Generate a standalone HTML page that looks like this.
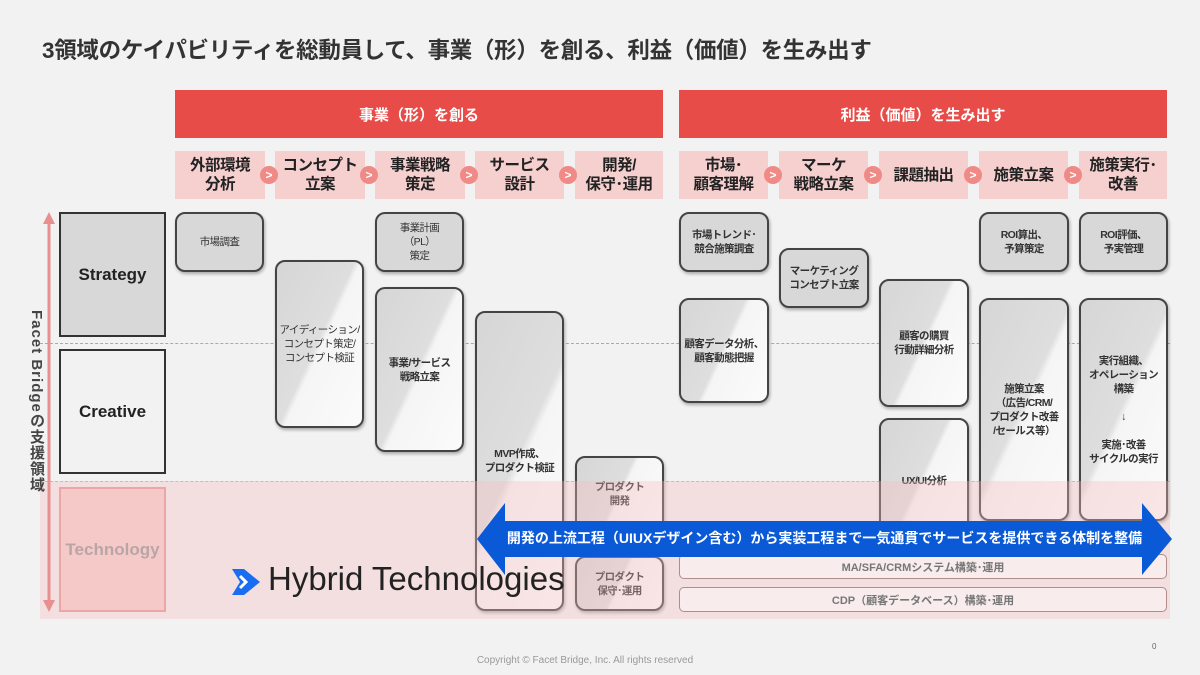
<!DOCTYPE html>
<html><head><meta charset="utf-8"><style>
*{margin:0;padding:0;box-sizing:border-box}
body{width:1200px;height:675px;background:#f2f2f2;position:relative;overflow:hidden;font-family:"Liberation Sans","Noto Sans CJK JP",sans-serif;color:#222}
.a{position:absolute}
.title{left:42px;top:33px;font-size:22.5px;font-weight:bold;letter-spacing:-0.3px;color:#333;white-space:nowrap}
.hd{background:#e84c48;color:#fff;font-weight:bold;font-size:15px;display:flex;align-items:center;justify-content:center;top:90px;height:48px}
.sh{background:#f6cfcf;top:151px;height:48px;font-weight:bold;font-size:15.5px;line-height:19px;display:flex;align-items:center;justify-content:center;text-align:center;color:#222;letter-spacing:-0.5px;white-space:nowrap}
.ch{width:18px;height:18px;border-radius:50%;background:#ef8a86;color:#fff;font-size:12px;font-weight:bold;display:flex;align-items:center;justify-content:center;top:166px;z-index:2}
.b{border:2px solid #444;border-radius:10px;font-size:10.5px;line-height:14px;font-weight:bold;display:flex;align-items:center;justify-content:center;text-align:center;box-shadow:1px 2px 3px rgba(0,0,0,.3);color:#333;letter-spacing:-0.6px;white-space:nowrap}
.g{background:#d8d8d8}
.gr{background:linear-gradient(115deg,#d6d6d6 0%,#dedede 48%,#f5f5f5 52%,#fbfbfb 100%)}
.row{border:2px solid #333;font-size:17px;font-weight:bold;display:flex;align-items:center;justify-content:center;left:59px;width:107px}
.dash{left:40px;width:1130px;border-top:1px dashed #aaa}
.bar{left:679px;width:488px;height:25px;border:1.5px solid #b08c8c;border-radius:5px;background:rgba(255,255,255,.4);font-size:11px;font-weight:bold;color:#777;display:flex;align-items:center;justify-content:center}
</style></head><body>
<div class="a title">3領域のケイパビリティを総動員して、事業（形）を創る、利益（価値）を生み出す</div>
<div class="a hd" style="left:175px;width:488px">事業（形）を創る</div>
<div class="a hd" style="left:679px;width:488px">利益（価値）を生み出す</div>

<div class="a sh" style="left:175px;width:90px">外部環境<br>分析</div>
<div class="a sh" style="left:275px;width:90px">コンセプト<br>立案</div>
<div class="a sh" style="left:375px;width:90px">事業戦略<br>策定</div>
<div class="a sh" style="left:475px;width:89px">サービス<br>設計</div>
<div class="a sh" style="left:575px;width:88px">開発/<br>保守･運用</div>
<div class="a sh" style="left:679px;width:89px">市場･<br>顧客理解</div>
<div class="a sh" style="left:779px;width:89px">マーケ<br>戦略立案</div>
<div class="a sh" style="left:879px;width:89px">課題抽出</div>
<div class="a sh" style="left:979px;width:89px">施策立案</div>
<div class="a sh" style="left:1079px;width:88px">施策実行･<br>改善</div>
<div class="a ch" style="left:260px">&gt;</div><div class="a ch" style="left:360px">&gt;</div><div class="a ch" style="left:460px">&gt;</div><div class="a ch" style="left:559px">&gt;</div>
<div class="a ch" style="left:764px">&gt;</div><div class="a ch" style="left:864px">&gt;</div><div class="a ch" style="left:964px">&gt;</div><div class="a ch" style="left:1064px">&gt;</div>

<div class="a dash" style="top:343px"></div>
<div class="a dash" style="top:481px;border-color:#d9a8a8"></div>

<div class="a row" style="top:212px;height:125px;background:#d8d8d8">Strategy</div>
<div class="a row" style="top:349px;height:125px;background:#f2f2f2">Creative</div>
<div class="a row" style="top:487px;height:125px;border-color:#e89a9a;color:#999;background:#f6d0d0">Technology</div>

<div class="a b g" style="left:175px;top:212px;width:89px;height:60px;font-weight:normal">市場調査</div>
<div class="a b gr" style="left:275px;top:260px;width:89px;height:168px;font-weight:normal">アイディーション/<br>コンセプト策定/<br>コンセプト検証</div>
<div class="a b g" style="left:375px;top:212px;width:89px;height:60px;font-weight:normal">事業計画<br>（PL）<br>策定</div>
<div class="a b gr" style="left:375px;top:287px;width:89px;height:165px">事業/サービス<br>戦略立案</div>
<div class="a b gr" style="left:475px;top:311px;width:89px;height:300px">MVP作成、<br>プロダクト検証</div>
<div class="a b gr" style="left:575px;top:456px;width:89px;height:76px">プロダクト<br>開発</div>
<div class="a b gr" style="left:575px;top:556px;width:89px;height:55px">プロダクト<br>保守･運用</div>

<div class="a b g" style="left:679px;top:212px;width:90px;height:60px">市場トレンド･<br>競合施策調査</div>
<div class="a b gr" style="left:679px;top:298px;width:90px;height:105px">顧客データ分析、<br>顧客動態把握</div>
<div class="a b g" style="left:779px;top:248px;width:90px;height:60px">マーケティング<br>コンセプト立案</div>
<div class="a b gr" style="left:879px;top:279px;width:90px;height:128px">顧客の購買<br>行動詳細分析</div>
<div class="a b gr" style="left:879px;top:418px;width:90px;height:115px;padding-top:10px">UX/UI分析</div>
<div class="a b g" style="left:979px;top:212px;width:90px;height:60px">ROI算出、<br>予算策定</div>
<div class="a b gr" style="left:979px;top:298px;width:90px;height:223px">施策立案<br>（広告/CRM/<br>プロダクト改善<br>/セールス等）</div>
<div class="a b g" style="left:1079px;top:212px;width:89px;height:60px">ROI評価、<br>予実管理</div>
<div class="a b gr" style="left:1079px;top:298px;width:89px;height:223px">実行組織、<br>オペレーション<br>構築<br><br>↓<br><br>実施･改善<br>サイクルの実行</div>

<div class="a" style="left:40px;top:481px;width:1130px;height:138px;background:rgba(245,190,190,.35)"></div>
<div class="a bar" style="top:554px">MA/SFA/CRMシステム構築･運用</div>
<div class="a bar" style="top:587px">CDP（顧客データベース）構築･運用</div>

<svg class="a" style="left:0;top:0" width="1200" height="675">
<line x1="49" y1="222" x2="49" y2="602" stroke="#e89090" stroke-width="3"/>
<polygon points="43,224 49,212 55,224" fill="#e89090"/>
<polygon points="43,600 49,612 55,600" fill="#e89090"/>
<polygon points="477,539 505,503 505,521 1142,521 1142,503 1172,539 1142,575 1142,557 505,557 505,575" fill="#0a5ad8"/>
<g transform="translate(232,566)"><path d="M0 3 L12 3 L28 16 L12 29 L0 29 L8 16 Z" fill="#1a6cf0"/><path d="M8 10 L14 16 L8 22" fill="none" stroke="#fff" stroke-width="3"/></g>
</svg>
<div class="a" style="left:477px;top:528px;width:695px;text-align:center;color:#fff;font-weight:bold;font-size:14px">開発の上流工程（UIUXデザイン含む）から実装工程まで一気通貫でサービスを提供できる体制を整備</div>
<div class="a" style="left:268px;top:560px;font-size:33px;color:#222;letter-spacing:0px;white-space:nowrap">Hybrid Technologies</div>
<div class="a" style="left:17px;top:310px;width:30px;height:210px;writing-mode:vertical-rl;font-size:15px;font-weight:bold;color:#444;letter-spacing:1px">Facet Bridgeの支援領域</div>
<div class="a" style="left:0;width:1170px;top:655px;text-align:center;font-size:10px;color:#999">Copyright © Facet Bridge, Inc. All rights reserved</div>
<div class="a" style="left:1152px;top:642px;font-size:8px;color:#666">0</div>
</body></html>
